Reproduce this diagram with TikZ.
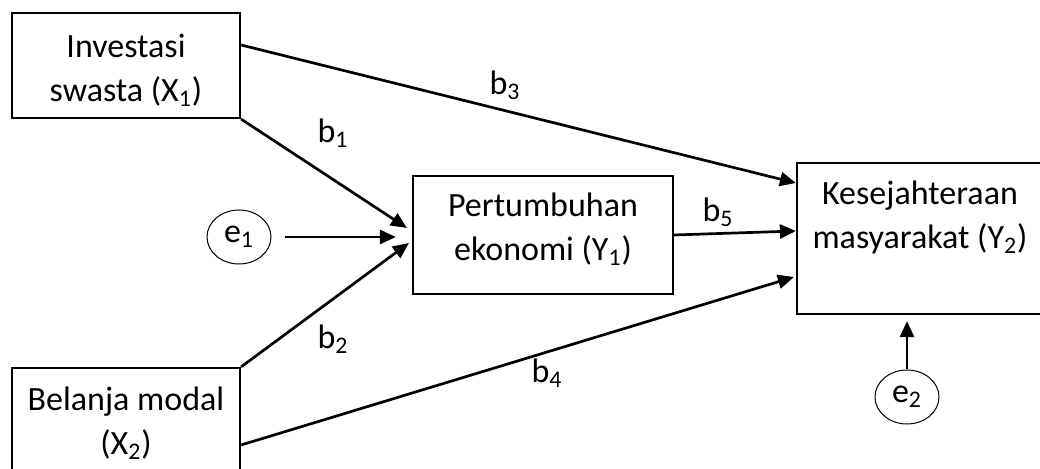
\documentclass[tikz,border=0pt]{standalone}
\usepackage{fontspec}
\setmainfont{Carlito}
\usetikzlibrary{arrows.meta,calc,shapes.geometric}
\begin{document}
\begin{tikzpicture}[x=0.5pt,y=-0.5pt,
  box/.style={draw, line width=1.1pt, rectangle, inner sep=0pt},
  txt/.style={align=center, inner sep=0pt, font=\fontsize{17}{22}\selectfont},
  err/.style={draw, ellipse, line width=0.5pt, minimum width=32pt, minimum height=27pt, inner sep=0pt, font=\fontsize{17}{21}\selectfont},
  arr/.style={line width=1.35pt, -{Triangle[length=8pt,width=7pt]}},
  lbl/.style={inner sep=0pt, font=\fontsize{17}{21}\selectfont}]
\useasboundingbox (0,0) rectangle (1040,469);
\clip (0,0) rectangle (1040,469);
% boxes
\node[box, minimum width=114pt, minimum height=52.5pt] (x1) at (126,65.5) {};
\node[txt] at (126,70) {Investasi\\swasta (X\textsubscript{1})};
\node[box, minimum width=114pt, minimum height=56pt] (x2) at (126,424) {};
\node[txt] at (126,423) {Belanja modal\\(X\textsubscript{2})};
\node[box, minimum width=130pt, minimum height=59pt] (y1) at (543,235) {};
\node[txt] at (543,229) {Pertumbuhan\\ekonomi (Y\textsubscript{1})};
\node[box, minimum width=123pt, minimum height=75.5pt] (y2) at (920,238.5) {};
\node[txt] at (920,217) {Kesejahteraan\\masyarakat (Y\textsubscript{2})};
% error terms
\node[err] (e1) at (239,237) {e\textsubscript{1}};
\node[err] (e2) at (907,397) {e\textsubscript{2}};
% arrows
\draw[arr] ([shift={(0,-20.5)}]x1.east) -- ([shift={(0,-55.5)}]y2.west);
\draw[arr] (x1.south east) -- ([shift={(-5,-7)}]y1.west);
\draw[arr] ([shift={(13,0)}]e1.east) -- ([shift={(-16,2)}]y1.west);
\draw[arr] (x2.north east) -- ([shift={(-3,8)}]y1.west);
\draw[arr] (y1.east) -- ([shift={(0,-7.5)}]y2.west);
\draw[arr] ([shift={(0,21)}]x2.east) -- ([shift={(-2,38.5)}]y2.west);
\draw[arr] (e2.north) -- ([shift={(-13,6)}]y2.south);
% labels
\node[lbl] (lb3) at (505,85) {b\textsubscript{3}};
\node[lbl] (lb1) at (333,133) {b\textsubscript{1}};
\node[lbl] (lb2) at (333,339) {b\textsubscript{2}};
\node[lbl] (lb4) at (547,373) {b\textsubscript{4}};
\node[lbl] (lb5) at (718,212) {b\textsubscript{5}};
\end{tikzpicture}
\end{document}
